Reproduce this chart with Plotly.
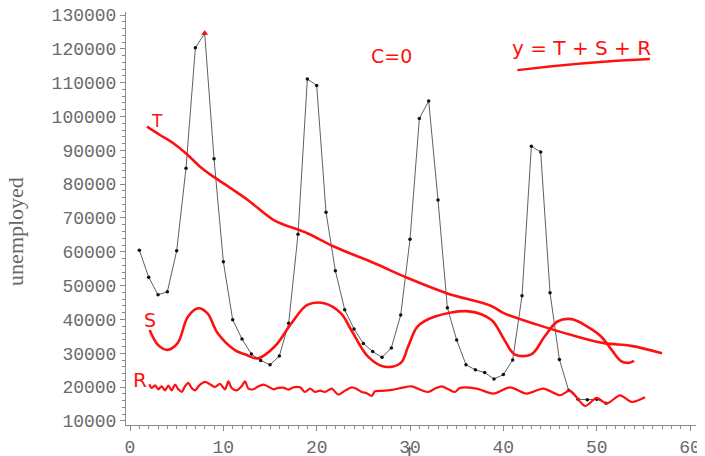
import plotly.graph_objects as go

# observed series
t = list(range(1, 52))
unemployed = [60500, 52500, 47300, 48200, 60300, 84700, 120300, 124600, 87500, 57100,
              39900, 34200, 29800, 27900, 26600, 29200, 38900, 65200, 111100, 109200,
              71700, 54400, 42900, 37200, 32900, 30500, 28800, 31600, 41300, 63700,
              99400, 104600, 75300, 43500, 33900, 26600, 25100, 24300, 22400, 23700,
              28000, 47000, 91200, 89500, 47900, 28200, 19000, 16400, 16300, 16400, 15200]

# hand-drawn trend component (T)
trend_t = [1.82, 3.21, 4.64, 6.07, 7.5, 8.93, 11.07, 12.86, 15.4, 19.0, 21.9, 26.2, 29.8,
           34.0, 38.7, 40.1, 43.7, 47.3, 50.8, 53.7, 57.0]
trend_v = [97000, 94540, 92090, 88930, 85170, 82220, 78280, 74820, 69400, 65500, 61500,
           56600, 52200, 47700, 44000, 41800, 38400, 35400, 33000, 32200, 30000]

# hand-drawn seasonal component (S)
seas_t = [2.1, 3.0, 4.0, 5.1, 6.2, 7.3, 8.3, 9.4, 11.2, 12.3, 13.7, 15.5, 17.3, 19.0, 20.8,
          22.6, 23.7, 25.5, 27.3, 29.0, 29.8, 30.8, 32.6, 36.3, 38.7, 40.1, 41.2, 43.0,
          44.4, 45.8, 47.3, 49.0, 50.5, 51.6, 52.6, 53.5, 54.0]
seas_v = [36900, 32500, 31000, 33000, 40800, 43300, 41800, 35900, 31000, 29700, 28500,
          32000, 38900, 44300, 44800, 41800, 36900, 29000, 26000, 27100, 32000, 37900,
          40800, 42400, 39900, 34000, 29700, 29700, 34900, 39400, 40100, 37900, 34900,
          31000, 27700, 27200, 27800]

# hand-drawn residual component (R)
res_t = [2.07, 2.32, 2.68, 3.04, 3.39, 3.75, 4.11, 4.46, 4.82, 5.18, 5.54, 5.89, 6.25,
         6.61, 6.96, 7.5, 8.04, 8.57, 9.11, 9.64, 10.18, 10.54, 10.89, 11.43, 11.96,
         12.32, 12.68, 13.21, 13.75, 14.29, 14.82, 15.36, 15.89, 16.43, 16.96, 17.5,
         18.21, 18.75, 19.29, 19.82, 20.36, 20.89, 21.61, 22.32, 23.04, 23.75, 24.29,
         24.82, 25.36, 25.89, 26.25, 26.96, 28.04, 29.11, 30.18, 31.25, 31.96, 32.68,
         33.39, 34.11, 34.82, 35.36, 37.14, 38.93, 40.71, 42.5, 44.29, 46.07, 47.14,
         48.75, 50.0, 51.07, 52.5, 53.75, 55.18]
res_v = [20850, 19740, 20530, 19360, 20240, 19060, 20450, 19060, 20740, 19360, 18560,
         20240, 21240, 19740, 19060, 20740, 21540, 20850, 20040, 20950, 19360, 21720,
         19740, 19060, 20240, 21720, 19570, 19360, 20240, 20740, 20140, 19360, 19770,
         19840, 19270, 19940, 19940, 18560, 19560, 18560, 18970, 18560, 19560, 17790,
         18970, 19940, 19460, 18560, 18190, 17380, 18760, 18870, 19160, 19770, 20240,
         19060, 18560, 19560, 20240, 19360, 18560, 19770, 19560, 18090, 19940, 18090,
         19560, 17590, 18970, 14420, 16810, 15130, 17580, 15600, 16990]

x_ticks = [0, 10, 20, 30, 40, 50, 60]
y_ticks = [10000, 20000, 30000, 40000, 50000, 60000, 70000, 80000, 90000, 100000,
           110000, 120000, 130000]

RED = "#ff1010"

fig = go.Figure()
fig.add_trace(go.Scatter(x=t, y=unemployed, mode="lines+markers",
                         line=dict(color="#606060", width=1),
                         marker=dict(color="#111111", size=3.5), showlegend=False))
fig.add_trace(go.Scatter(x=trend_t, y=trend_v, mode="lines",
                         line=dict(color=RED, width=2.6, shape="spline", smoothing=1.0),
                         showlegend=False))
fig.add_trace(go.Scatter(x=seas_t, y=seas_v, mode="lines",
                         line=dict(color=RED, width=2.6, shape="spline", smoothing=1.0),
                         showlegend=False))
fig.add_trace(go.Scatter(x=res_t, y=res_v, mode="lines",
                         line=dict(color=RED, width=2.2, shape="spline", smoothing=0.8),
                         showlegend=False))
# red mark at the peak
pk = unemployed.index(max(unemployed))
fig.add_trace(go.Scatter(x=[t[pk]], y=[unemployed[pk]], mode="markers",
                         marker=dict(color=RED, size=6, symbol="triangle-up"),
                         showlegend=False))

hand = dict(family="DejaVu Sans", color=RED)
fig.add_annotation(x=2.9, y=98700, text="T", showarrow=False, font=dict(size=17, **hand))
fig.add_annotation(x=2.14, y=39900, text="S", showarrow=False, font=dict(size=19, **hand))
fig.add_annotation(x=1.07, y=22100, text="R", showarrow=False, font=dict(size=20, **hand))
fig.add_annotation(x=28, y=117900, text="C=0", showarrow=False, font=dict(size=19, **hand))
fig.add_annotation(x=48.4, y=120300, text="y = T + S + R", showarrow=False,
                   font=dict(size=20, **hand))
fig.add_shape(type="path", path="M 41.5 113700 Q 48.6 116100 55.7 117000",
              line=dict(color=RED, width=2.4))

fig.add_annotation(xref="paper", yref="paper", x=0.498, y=-0.062, text="t",
                   showarrow=False, yanchor="middle",
                   font=dict(family="Liberation Serif", size=21, color="#666666"))
fig.add_annotation(xref="paper", yref="paper", x=-0.193, y=0.47, text="unemployed",
                   showarrow=False, textangle=-90, xanchor="center", yanchor="middle",
                   font=dict(family="Liberation Serif", size=22, color="#666666"))

axis_common = dict(showgrid=False, zeroline=False, showline=True, linecolor="#8a8a8a",
                   linewidth=1, ticks="outside", tickcolor="#8a8a8a", ticklen=5,
                   automargin=False, tickformat="d", ticklabeloverflow="allow",
                   tickfont=dict(family="Liberation Mono", size=18, color="#6a6a6a"))
fig.update_xaxes(range=[-0.43, 60.64], tickvals=x_ticks,
                 minor=dict(dtick=1, ticks="outside", ticklen=3, tickcolor="#8a8a8a"),
                 **axis_common)
fig.update_yaxes(range=[8800, 130900], tickvals=y_ticks,
                 minor=dict(dtick=2000, ticks="outside", ticklen=3, tickcolor="#8a8a8a"),
                 **axis_common)

# the page adds an 8px body margin, so the figure is sized to fit inside it
fig.update_layout(width=697, height=448, autosize=False,
                  margin=dict(l=118, r=9, t=4, b=31),
                  paper_bgcolor="white", plot_bgcolor="white")

fig.write_html("out.html")
